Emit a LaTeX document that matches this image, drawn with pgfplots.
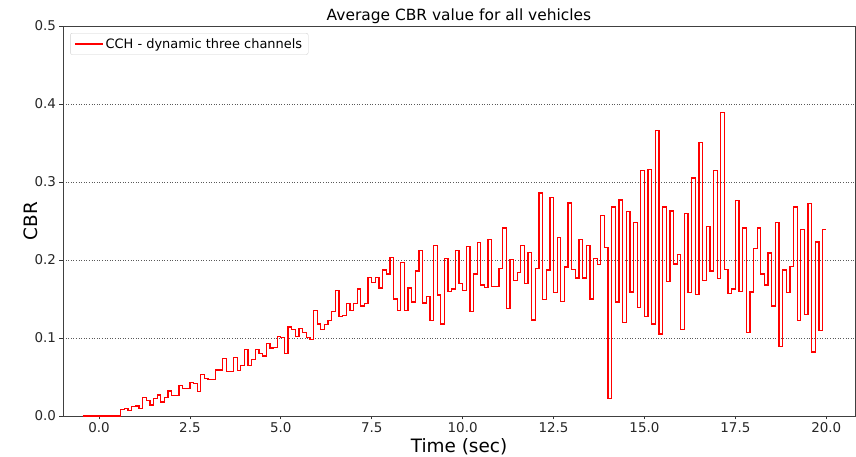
\documentclass[border=0pt]{standalone}
\usepackage{fontspec}
\setmainfont{DejaVu Sans}
\usepackage{pgfplots}
\pgfplotsset{compat=1.18}
\usepackage{pgfplotstable}

% average CBR, one value per 0.1 s step (held until next step)
\pgfplotstableread{
t v
-0.45 0.000
0.6 0.008
0.7 0.010
0.8 0.007
0.9 0.012
1.0 0.013
1.1 0.010
1.2 0.024
1.3 0.020
1.4 0.014
1.5 0.022
1.6 0.027
1.7 0.018
1.8 0.024
1.9 0.032
2.0 0.026
2.1 0.026
2.2 0.039
2.3 0.035
2.4 0.035
2.5 0.043
2.6 0.042
2.7 0.031
2.8 0.053
2.9 0.048
3.0 0.047
3.1 0.047
3.2 0.059
3.3 0.059
3.4 0.074
3.5 0.057
3.6 0.057
3.7 0.075
3.8 0.058
3.9 0.065
4.0 0.085
4.1 0.065
4.2 0.072
4.3 0.085
4.4 0.080
4.5 0.077
4.6 0.093
4.7 0.087
4.8 0.088
4.9 0.102
5.0 0.101
5.1 0.080
5.2 0.114
5.3 0.111
5.4 0.102
5.5 0.112
5.6 0.107
5.7 0.101
5.8 0.098
5.9 0.135
6.0 0.118
6.1 0.111
6.2 0.117
6.3 0.122
6.4 0.134
6.5 0.161
6.6 0.128
6.7 0.129
6.8 0.144
6.9 0.135
7.0 0.144
7.1 0.163
7.2 0.141
7.3 0.144
7.4 0.178
7.5 0.171
7.6 0.178
7.7 0.164
7.8 0.187
7.9 0.182
8.0 0.203
8.1 0.150
8.2 0.135
8.3 0.197
8.4 0.135
8.5 0.164
8.6 0.146
8.7 0.186
8.8 0.212
8.9 0.145
9.0 0.153
9.1 0.122
9.2 0.219
9.3 0.155
9.4 0.118
9.5 0.202
9.6 0.160
9.7 0.163
9.8 0.212
9.9 0.170
10.0 0.161
10.1 0.217
10.2 0.134
10.3 0.182
10.4 0.222
10.5 0.168
10.6 0.165
10.7 0.226
10.8 0.166
10.9 0.166
11.0 0.189
11.1 0.241
11.2 0.138
11.3 0.201
11.4 0.174
11.5 0.184
11.6 0.219
11.7 0.170
11.8 0.210
11.9 0.123
12.0 0.189
12.1 0.286
12.2 0.149
12.3 0.187
12.4 0.280
12.5 0.158
12.6 0.229
12.7 0.147
12.8 0.191
12.9 0.273
13.0 0.188
13.1 0.177
13.2 0.226
13.3 0.177
13.4 0.219
13.5 0.150
13.6 0.202
13.7 0.194
13.8 0.257
13.9 0.216
14.0 0.022
14.1 0.268
14.2 0.146
14.3 0.277
14.4 0.120
14.5 0.262
14.6 0.159
14.7 0.248
14.8 0.139
14.9 0.315
15.0 0.128
15.1 0.316
15.2 0.118
15.3 0.366
15.4 0.105
15.5 0.268
15.6 0.172
15.7 0.263
15.8 0.195
15.9 0.207
16.0 0.111
16.1 0.260
16.2 0.158
16.3 0.305
16.4 0.156
16.5 0.351
16.6 0.174
16.7 0.243
16.8 0.186
16.9 0.315
17.0 0.176
17.1 0.389
17.2 0.188
17.3 0.157
17.4 0.163
17.5 0.276
17.6 0.160
17.7 0.241
17.8 0.107
17.9 0.159
18.0 0.215
18.1 0.241
18.2 0.182
18.3 0.168
18.4 0.209
18.5 0.141
18.6 0.248
18.7 0.089
18.8 0.187
18.9 0.158
19.0 0.192
19.1 0.268
19.2 0.122
19.3 0.239
19.4 0.130
19.5 0.272
19.6 0.082
19.7 0.223
19.8 0.110
19.9 0.239
20.0 0.239
}\cbrdata

\begin{document}
\begin{tikzpicture}
\begin{axis}[
  scale only axis,
  width=792bp, height=390bp,
  xmin=-0.99, xmax=20.79,
  ymin=0, ymax=0.5,
  clip=false,
  xtick={0,2.5,5,7.5,10,12.5,15,17.5,20},
  ytick={0,0.1,0.2,0.3,0.4,0.5},
  /pgf/number format/assume math mode=true,
  xticklabel style={/pgf/number format/.cd,fixed,fixed zerofill,precision=1},
  yticklabel style={/pgf/number format/.cd,fixed,fixed zerofill,precision=1},
  ticklabel style={font=\fontsize{13.5}{16}\selectfont, text=black!85},
  tick align=outside,
  tick pos=left,
  major tick length=3.5bp,
  tick style={black!80, line width=0.8bp},
  axis line style={black!75, line width=0.8bp},
  ymajorgrids,
  grid style={black!65, line width=0.9bp, dash pattern=on 1bp off 1.6bp},
  xlabel={Time (sec)},
  ylabel={CBR},
  label style={font=\fontsize{18.5}{22}\selectfont},
  xlabel style={at={(axis description cs:0.5,0)}, anchor=base, yshift=-37bp},
  ylabel style={at={(axis description cs:-0.0328,0.5)}, rotate=0, anchor=base},
  title={Average CBR value for all vehicles},
  title style={font=\fontsize{15.5}{18}\selectfont, at={(axis description cs:0.5,1)}, anchor=base, yshift=0bp},
  legend style={at={(0.009,0.982)}, anchor=north west,
    font=\fontsize{13}{15}\selectfont, draw=black!18, rounded corners=2bp,
    inner xsep=4bp, inner ysep=3bp},
  legend cell align=left,
  legend image code/.code={\draw[red, line width=1.3bp] (0bp,0bp) -- (28bp,0bp);},
]
\addplot[const plot, red, line width=1.3bp] table[x=t, y=v] {\cbrdata};
\addlegendentry{CCH - dynamic three channels}
\end{axis}
\pgfresetboundingbox
\path (current axis.south west) ++(-63bp,-41bp) rectangle ([xshift=1bp,yshift=26bp]current axis.north east);
\end{tikzpicture}
\end{document}
